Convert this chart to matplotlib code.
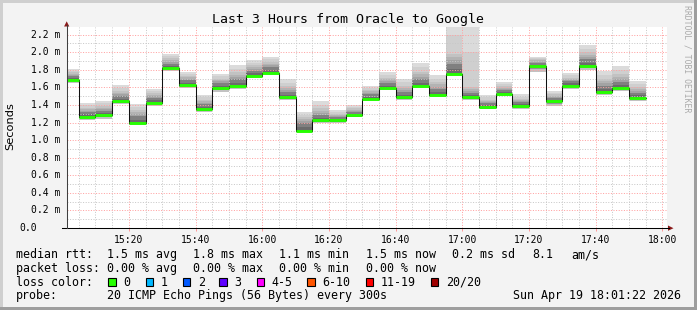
import matplotlib
matplotlib.use("Agg")
import matplotlib.pyplot as plt
import matplotlib.dates as mdates
from matplotlib.transforms import Affine2D
from matplotlib.patches import Rectangle, Polygon
from matplotlib.lines import Line2D
import numpy as np
import pandas as pd

# ---- data (ms), one value per 5 minute bin starting 15:00 ----
bin_start = "2026-04-19 15:00"
bin_end = "2026-04-19 17:55"
view_start = "2026-04-19 15:01:22"
view_end = "2026-04-19 18:01:22"

median = [1.687, 1.268, 1.280, 1.439, 1.196, 1.424, 1.820, 1.622, 1.348, 1.591,
          1.618, 1.732, 1.762, 1.485, 1.109, 1.223, 1.223, 1.280, 1.466, 1.591,
          1.485, 1.614, 1.508, 1.751, 1.485, 1.371, 1.527, 1.386, 1.839, 1.439,
          1.618, 1.839, 1.542, 1.591, 1.481]
ping_min = [1.65, 1.23, 1.245, 1.41, 1.17, 1.39, 1.79, 1.59, 1.32, 1.55,
            1.58, 1.71, 1.735, 1.46, 1.09, 1.20, 1.20, 1.26, 1.45, 1.57,
            1.46, 1.59, 1.49, 1.73, 1.46, 1.35, 1.50, 1.35, 1.77, 1.39,
            1.58, 1.80, 1.515, 1.56, 1.45]
ping_max = [1.81, 1.42, 1.45, 1.63, 1.41, 1.58, 1.98, 1.78, 1.51, 1.75,
            1.85, 1.91, 1.95, 1.69, 1.32, 1.44, 1.34, 1.40, 1.62, 1.77,
            1.70, 1.88, 1.74, 2.40, 2.40, 1.51, 1.66, 1.52, 1.95, 1.56,
            1.76, 2.08, 1.79, 1.84, 1.67]
smoke_mid = [1.77, 1.37, 1.39, 1.56, 1.34, 1.53, 1.93, 1.73, 1.46, 1.70,
             1.77, 1.85, 1.89, 1.62, 1.26, 1.36, 1.30, 1.36, 1.57, 1.71,
             1.62, 1.78, 1.66, 1.98, 1.60, 1.46, 1.61, 1.47, 1.92, 1.52,
             1.71, 2.00, 1.70, 1.75, 1.60]
smoke_core = [1.73, 1.32, 1.33, 1.50, 1.27, 1.48, 1.87, 1.68, 1.41, 1.65,
              1.69, 1.79, 1.83, 1.55, 1.19, 1.29, 1.26, 1.32, 1.52, 1.65,
              1.55, 1.69, 1.58, 1.87, 1.53, 1.42, 1.57, 1.43, 1.88, 1.48,
              1.67, 1.92, 1.62, 1.66, 1.54]

ytick_values = [0.0, 0.2, 0.4, 0.6, 0.8, 1.0, 1.2, 1.4, 1.6, 1.8, 2.0, 2.2]
ytick_labels = ["0.0", "0.2 m", "0.4 m", "0.6 m", "0.8 m", "1.0 m", "1.2 m",
                "1.4 m", "1.6 m", "1.8 m", "2.0 m", "2.2 m"]

title = "Last 3 Hours from Oracle to Google"
legend_rows = [
    [("median rtt:", 16), ("1.5 ms avg", 107.3), ("1.8 ms max", 193.3),
     ("1.1 ms min", 279.3), ("1.5 ms now", 366), ("0.2 ms sd", 451.7),
     ("8.1", 532.7), ("am/s", 571.7)],
    [("packet loss:", 16), ("0.00 % avg", 107.3), ("0.00 % max", 193.3),
     ("0.00 % min", 279.3), ("0.00 % now", 366)],
    [("loss color:", 16)],
    [("probe:", 16), ("20 ICMP Echo Pings (56 Bytes) every 300s", 107.3),
     ("Sun Apr 19 18:01:22 2026", 513.3)],
]
loss_labels = ["0", "1", "2", "3", "4-5", "6-10", "11-19", "20/20"]
loss_colors = ["#26ff00", "#00b8ff", "#0059ff", "#5e00ff", "#ff00ff",
               "#ff5500", "#ff0000", "#a00000"]
loss_box_x = [108.3, 145.7, 182.7, 219.3, 256.7, 307.3, 366, 431]

MONO = "DejaVu Sans Mono"
W, H = 697, 310

fig = plt.figure(figsize=(W / 100, H / 100), dpi=100, facecolor="#f3f3f3")
pix = Affine2D().scale(1 / W, -1 / H).translate(0, 1) + fig.transFigure

left, right, top, bottom = 66.7, 667.0, 27.3, 228.0
ax = fig.add_axes([left / W, 1 - bottom / H, (right - left) / W, (bottom - top) / H])
ax.set_facecolor("white")

edges = pd.date_range(bin_start, bin_end, freq="5min")


def ext(a):
    a = np.asarray(a, dtype=float)
    return np.append(a, a[-1])


med = np.asarray(median)
lo = np.asarray(ping_min)
hi = np.asarray(ping_max)
mid = np.asarray(smoke_mid)
core = np.asarray(smoke_core)

# smoke: light outer range, darker towards the median
ax.fill_between(edges, ext(lo), ext(hi), step="post", color="0.86", lw=0, zorder=1)
for t, g in [(0.5, 0.81), (1.0, 0.76)]:
    ax.fill_between(edges, ext(lo), ext(hi + (mid - hi) * t), step="post",
                    color=str(g), lw=0, zorder=1)
for t, g in [(0.34, 0.70), (0.67, 0.64), (1.0, 0.58)]:
    ax.fill_between(edges, ext(lo + (med - lo) * 0.5), ext(mid + (core - mid) * t),
                    step="post", color=str(g), lw=0, zorder=1)
for t, g in [(0.0, 0.50), (0.5, 0.42)]:
    ax.fill_between(edges, ext(med - 0.012), ext(core + (med - core) * t),
                    step="post", color=str(g), lw=0, zorder=1)

# median line
ax.step(edges, ext(med), where="post", color="#111111", lw=0.75, zorder=3)
ax.hlines(med, edges[:-1], edges[1:], color="#26ff00", lw=2.1, zorder=4)

ax.set_xlim(pd.Timestamp(view_start), pd.Timestamp(view_end))
ax.set_ylim(0, 2.283)

ax.xaxis.set_major_locator(mdates.MinuteLocator(byminute=[0, 20, 40]))
ax.xaxis.set_minor_locator(mdates.MinuteLocator(byminute=range(0, 60, 5)))
ax.xaxis.set_major_formatter(mdates.DateFormatter("%H:%M"))
ax.set_yticks(ytick_values)
ax.set_yticks(np.arange(0.1, 2.3, 0.2), minor=True)
ax.set_yticklabels([])

ax.set_axisbelow(False)
ax.grid(which="minor", color="#c8c8c8", ls=(0, (1, 1.6)), lw=0.72)
ax.grid(which="major", color="#ffa0a0", ls=(0, (1, 1.6)), lw=0.72)
for s in ax.spines.values():
    s.set_visible(False)
ax.tick_params(axis="x", which="major", length=2, width=0.72, color="#ff9999",
               pad=3, labelsize=7)
ax.tick_params(axis="x", which="minor", length=0)
ax.tick_params(axis="y", which="both", length=0)
for lab in ax.get_xticklabels():
    lab.set_fontfamily(MONO)

# y tick labels
ytr = ax.get_yaxis_transform()
for v, lab in zip(ytick_values, ytick_labels):
    xr = 37.5 if lab == "0.0" else 60.3
    ax.text((xr - left) / (right - left), v, lab, transform=ytr, ha="right",
            va="center", fontsize=7, family=MONO)

# axis lines with arrows
fig.add_artist(Line2D([62, 669], [228, 228], transform=pix, color="black", lw=0.75))
fig.add_artist(Line2D([66.7, 66.7], [228, 25], transform=pix, color="#404040", lw=0.75))
fig.add_artist(Polygon([[668, 225.5], [668, 230.8], [673.5, 228.2]], closed=True,
                       transform=pix, color="#8b1a1a", lw=0))
fig.add_artist(Polygon([[64.1, 26.5], [69.3, 26.5], [66.7, 21.3]], closed=True,
                       transform=pix, color="#8b1a1a", lw=0))

# texts
fig.text(348.5, 19, title, transform=pix, ha="center", va="center",
         fontsize=9.5, family=MONO)
fig.text(10, 126, "Seconds", transform=pix, rotation=90, ha="center",
         va="center", fontsize=8.2, family="DejaVu Sans")
fig.text(687.5, 59, "RRDTOOL / TOBI OETIKER", transform=pix, rotation=270,
         ha="center", va="center", fontsize=5.9, family=MONO, color="#aaaaaa")

row_base = [258, 272, 285.5, 299]
for yb, row in zip(row_base, legend_rows):
    for txt, xs in row:
        fig.text(xs, yb, txt, transform=pix, ha="left", va="baseline",
                 fontsize=8.35, family=MONO)

for xb, lab, col in zip(loss_box_x, loss_labels, loss_colors):
    fig.add_artist(Rectangle((xb, 278.3), 7.4, 7.6, transform=pix,
                             facecolor=col, edgecolor="black", lw=0.8))
    fig.text(xb + 15, row_base[2], lab, transform=pix, ha="left",
             va="baseline", fontsize=8.35, family=MONO)

# frame
fig.add_artist(Rectangle((0, 0), W, 2.5, transform=pix, color="#cfcfcf", lw=0))
fig.add_artist(Rectangle((0, 0), 2.5, H, transform=pix, color="#cfcfcf", lw=0))
fig.add_artist(Rectangle((0, H - 2.7), W, 2.7, transform=pix, color="#9e9e9e", lw=0))
fig.add_artist(Rectangle((W - 2.7, 0), 2.7, H, transform=pix, color="#9e9e9e", lw=0))

fig.savefig("out.png", dpi=100, facecolor=fig.get_facecolor())
